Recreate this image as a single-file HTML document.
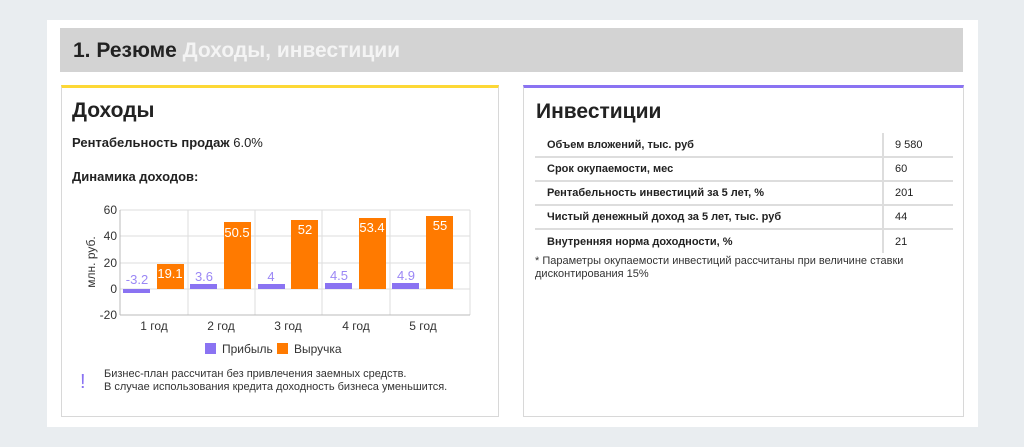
<!DOCTYPE html>
<html><head><meta charset="utf-8"><style>
*{margin:0;padding:0;box-sizing:border-box}
body{width:1024px;height:447px;background:#e9edf0;font-family:"Liberation Sans",sans-serif;position:relative;overflow:hidden;color:#222}
.a{position:absolute}
#panel{left:47px;top:20px;width:931px;height:407px;background:#fff}
#hdr{left:60px;top:28px;width:903px;height:44px;background:#d3d3d3;font-size:21px;font-weight:bold;padding:11px 0 0 13px}
.card{border:1px solid #d8d8d8;background:#fff}
h2{font-size:21px;font-weight:bold;color:#222}
td{font-size:11px;height:24px;border-bottom:2px solid #ddd}
</style></head><body>
<div class="a" id="panel"></div>
<div class="a" id="hdr">1. Резюме <span style="color:#f4f4f4">Доходы, инвестиции</span></div>

<div class="a card" style="left:61px;top:85px;width:438px;height:332px;border-top:3px solid #fdd835"></div>
<div class="a" style="left:72px;top:99px"><h2>Доходы</h2></div>
<div class="a" style="left:72px;top:135px;font-size:13px"><b>Рентабельность продаж</b> 6.0%</div>
<div class="a" style="left:72px;top:169px;font-size:13px;font-weight:bold">Динамика доходов:</div>

<svg class="a" style="left:0;top:0" width="1024" height="447" font-family="Liberation Sans,sans-serif">
<g stroke="#ddd" stroke-width="1">
<line x1="120" y1="210" x2="470" y2="210"/><line x1="120" y1="236" x2="470" y2="236"/><line x1="120" y1="263" x2="470" y2="263"/><line x1="120" y1="289" x2="470" y2="289"/>
<line x1="188" y1="210" x2="188" y2="315"/><line x1="255" y1="210" x2="255" y2="315"/><line x1="322" y1="210" x2="322" y2="315"/><line x1="390" y1="210" x2="390" y2="315"/><line x1="470" y1="210" x2="470" y2="315"/>
</g>
<g stroke="#bbb"><line x1="120" y1="210" x2="120" y2="315"/><line x1="120" y1="315" x2="470" y2="315"/></g>
<g font-size="12" fill="#333" text-anchor="end">
<text x="117" y="214">60</text><text x="117" y="240">40</text><text x="117" y="267">20</text><text x="117" y="293">0</text><text x="117" y="319">-20</text></g>
<text transform="translate(95,262) rotate(-90)" font-size="12" fill="#333" text-anchor="middle">млн. руб.</text>
<g fill="#8a73f2">
<rect x="123" y="289" width="27" height="4"/><rect x="190" y="284" width="27" height="5"/><rect x="258" y="284" width="27" height="5"/><rect x="325" y="283" width="27" height="6"/><rect x="392" y="283" width="27" height="6"/></g>
<g fill="#ff7a00">
<rect x="157" y="264" width="27" height="25"/><rect x="224" y="222" width="27" height="67"/><rect x="291" y="220" width="27" height="69"/><rect x="359" y="218" width="27" height="71"/><rect x="426" y="216" width="27" height="73"/></g>
<g font-size="13" fill="#9b87f5" text-anchor="middle">
<text x="137" y="284">-3.2</text><text x="204" y="281">3.6</text><text x="271" y="281">4</text><text x="339" y="280">4.5</text><text x="406" y="280">4.9</text></g>
<g font-size="13" fill="#fff" text-anchor="middle">
<text x="170" y="278">19.1</text><text x="237" y="237">50.5</text><text x="305" y="234">52</text><text x="372" y="232">53.4</text><text x="440" y="230">55</text></g>
<g font-size="12" fill="#333" text-anchor="middle">
<text x="154" y="330">1 год</text><text x="221" y="330">2 год</text><text x="288" y="330">3 год</text><text x="356" y="330">4 год</text><text x="423" y="330">5 год</text></g>
<rect x="205" y="343" width="11" height="11" fill="#8a73f2"/><text x="222" y="353" font-size="12" fill="#333">Прибыль</text>
<rect x="277" y="343" width="11" height="11" fill="#ff7a00"/><text x="294" y="353" font-size="12" fill="#333">Выручка</text>
<text x="80" y="388" font-size="20" fill="#8a73f2">!</text>
<text x="104" y="377" font-size="11" fill="#333">Бизнес-план рассчитан без привлечения заемных средств.</text>
<text x="104" y="390" font-size="11" fill="#333">В случае использования кредита доходность бизнеса уменьшится.</text>
</svg>

<div class="a card" style="left:523px;top:85px;width:441px;height:332px;border-top:3px solid #8a73f2"></div>
<div class="a" style="left:536px;top:100px"><h2>Инвестиции</h2></div>
<table class="a" style="left:535px;top:133px;width:418px;border-collapse:collapse">
<tr><td style="padding-left:12px;font-weight:bold">Объем вложений, тыс. руб</td><td style="border-left:2px solid #ddd;padding-left:11px;width:70px">9 580</td></tr>
<tr><td style="padding-left:12px;font-weight:bold">Срок окупаемости, мес</td><td style="border-left:2px solid #ddd;padding-left:11px">60</td></tr>
<tr><td style="padding-left:12px;font-weight:bold">Рентабельность инвестиций за 5 лет, %</td><td style="border-left:2px solid #ddd;padding-left:11px">201</td></tr>
<tr><td style="padding-left:12px;font-weight:bold">Чистый денежный доход за 5 лет, тыс. руб</td><td style="border-left:2px solid #ddd;padding-left:11px">44</td></tr>
<tr><td style="padding-left:12px;font-weight:bold;border-bottom:none">Внутренняя норма доходности, %</td><td style="border-left:2px solid #ddd;padding-left:11px;border-bottom:none">21</td></tr>
</table>
<div class="a" style="left:535px;top:255px;font-size:11px;line-height:13px;color:#333">* Параметры окупаемости инвестиций рассчитаны при величине ставки<br>дисконтирования 15%</div>
</body></html>
